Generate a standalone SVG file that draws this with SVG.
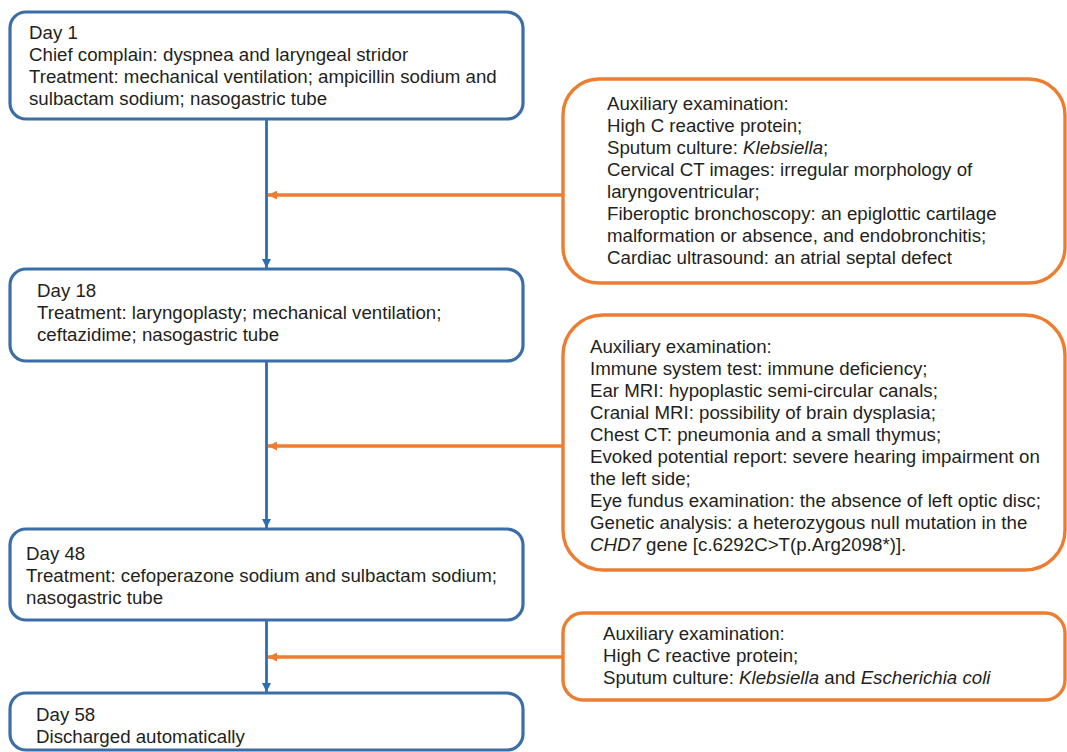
<svg xmlns="http://www.w3.org/2000/svg" width="1067" height="752" viewBox="0 0 1067 752">
  <defs>
    <style>
      text { font-family: "Liberation Sans", Arial, Helvetica, sans-serif; font-size: 18.7px; fill: #231f20; }
      .it { font-style: italic; }
      .blue { fill: #ffffff; stroke: #3b6ea6; stroke-width: 3.2; }
      .orange { fill: #ffffff; stroke: #ed7d31; stroke-width: 3.4; }
      .cb { stroke: #2f6db2; stroke-width: 2.8; fill: none; }
      .co { stroke: #ed7d31; stroke-width: 3.4; fill: none; }
    </style>
    <marker id="ab" viewBox="0 0 10 10" refX="10" refY="5" markerWidth="9" markerHeight="9" markerUnits="userSpaceOnUse" orient="auto">
      <path d="M0,0 L10,5 L0,10 Z" fill="#2f6db2"/>
    </marker>
    <marker id="ao" viewBox="0 0 10 10" refX="10" refY="5" markerWidth="9" markerHeight="9" markerUnits="userSpaceOnUse" orient="auto">
      <path d="M0,0 L10,5 L0,10 Z" fill="#ed7d31"/>
    </marker>
  </defs>
  <rect width="1067" height="752" fill="#ffffff"/>

  <g id="connectors">
    <line class="cb" x1="266.5" y1="120" x2="266.5" y2="268" marker-end="url(#ab)"/>
    <line class="cb" x1="266.5" y1="362" x2="266.5" y2="528" marker-end="url(#ab)"/>
    <line class="cb" x1="266.5" y1="621" x2="266.5" y2="692" marker-end="url(#ab)"/>
    <line class="co" x1="563" y1="195" x2="268" y2="195" marker-end="url(#ao)"/>
    <line class="co" x1="563" y1="446" x2="268" y2="446" marker-end="url(#ao)"/>
    <line class="co" x1="563" y1="657" x2="268" y2="657" marker-end="url(#ao)"/>
  </g>

  <g id="day1">
    <rect class="blue" x="10" y="12" width="513" height="107" rx="16"/>
    <text x="29" y="39">Day 1</text>
    <text x="29" y="61">Chief complain: dyspnea and laryngeal stridor</text>
    <text x="29" y="83">Treatment: mechanical ventilation; ampicillin sodium and</text>
    <text x="29" y="105">sulbactam sodium; nasogastric tube</text>
  </g>

  <g id="aux1">
    <rect class="orange" x="563" y="79" width="502" height="204" rx="36"/>
    <text x="607" y="110">Auxiliary examination:</text>
    <text x="607" y="132">High C reactive protein;</text>
    <text x="607" y="154">Sputum culture: <tspan class="it">Klebsiella</tspan>;</text>
    <text x="607" y="176">Cervical CT images: irregular morphology of</text>
    <text x="607" y="198">laryngoventricular;</text>
    <text x="607" y="220">Fiberoptic bronchoscopy: an epiglottic cartilage</text>
    <text x="607" y="242">malformation or absence, and endobronchitis;</text>
    <text x="607" y="264">Cardiac ultrasound: an atrial septal defect</text>
  </g>

  <g id="day18">
    <rect class="blue" x="10" y="269" width="513" height="92" rx="16"/>
    <text x="37" y="297">Day 18</text>
    <text x="37" y="319">Treatment: laryngoplasty; mechanical ventilation;</text>
    <text x="37" y="341">ceftazidime; nasogastric tube</text>
  </g>

  <g id="aux2">
    <rect class="orange" x="563" y="315" width="502" height="255" rx="40"/>
    <text x="590" y="353">Auxiliary examination:</text>
    <text x="590" y="375">Immune system test: immune deficiency;</text>
    <text x="590" y="397">Ear MRI: hypoplastic semi-circular canals;</text>
    <text x="590" y="419">Cranial MRI: possibility of brain dysplasia;</text>
    <text x="590" y="441">Chest CT: pneumonia and a small thymus;</text>
    <text x="590" y="463">Evoked potential report: severe hearing impairment on</text>
    <text x="590" y="485">the left side;</text>
    <text x="590" y="507">Eye fundus examination: the absence of left optic disc;</text>
    <text x="590" y="529">Genetic analysis: a heterozygous null mutation in the</text>
    <text x="590" y="551"><tspan class="it">CHD7</tspan> gene [c.6292C&gt;T(p.Arg2098*)].</text>
  </g>

  <g id="day48">
    <rect class="blue" x="10" y="529" width="513" height="91" rx="16"/>
    <text x="26" y="560">Day 48</text>
    <text x="26" y="582">Treatment: cefoperazone sodium and sulbactam sodium;</text>
    <text x="26" y="604">nasogastric tube</text>
  </g>

  <g id="aux3">
    <rect class="orange" x="563" y="613" width="502" height="87" rx="20"/>
    <text x="603" y="640">Auxiliary examination:</text>
    <text x="603" y="662">High C reactive protein;</text>
    <text x="603" y="684">Sputum culture: <tspan class="it">Klebsiella</tspan> and <tspan class="it">Escherichia coli</tspan></text>
  </g>

  <g id="day58">
    <rect class="blue" x="10" y="693" width="513" height="57" rx="16"/>
    <text x="36" y="721">Day 58</text>
    <text x="36" y="743">Discharged automatically</text>
  </g>
</svg>
